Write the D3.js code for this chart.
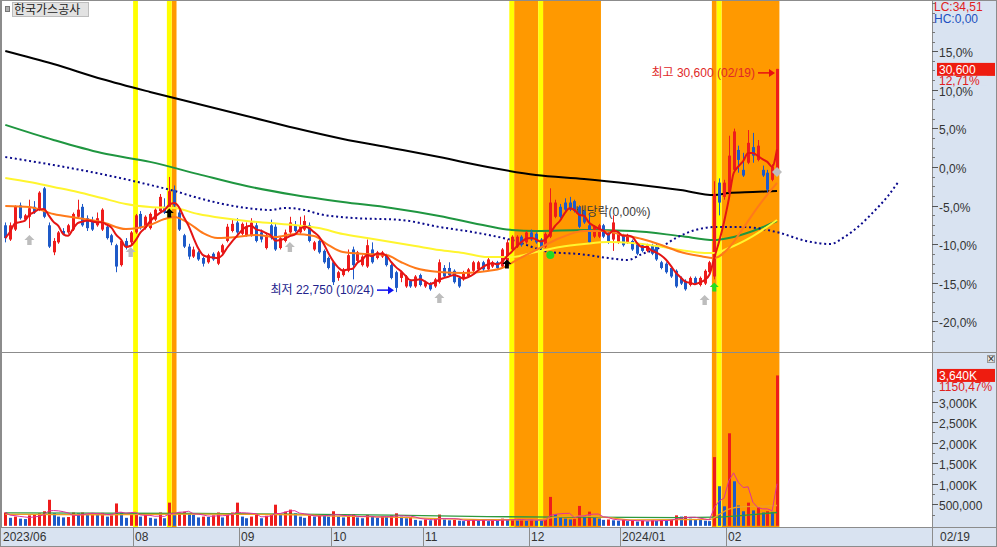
<!DOCTYPE html>
<html lang="ko"><head><meta charset="utf-8">
<script src="https://d3js.org/d3.v7.min.js"></script>
<style>
html,body{margin:0;padding:0;background:#fff;overflow:hidden}
svg{display:block}
text{font-family:"Liberation Sans","Noto Sans CJK KR",sans-serif;font-size:12px}
</style></head><body>
<svg id="chart" width="997" height="547"></svg>
<script>
// ---------------- DATA ----------------
const stockName = "한국가스공사";
const holidays = ["2023-08-15","2023-09-28","2023-09-29","2023-10-02","2023-10-03","2023-10-09","2023-12-25","2023-12-29","2024-01-01","2024-02-09","2024-02-12"];
const open = [25100,24600,24950,25800,25300,25400,25750,25650,26400,25100,
24150,24500,24900,24850,24950,25400,25750,25350,25250,25100,
24950,25050,24750,24400,23700,24550,24500,24850,25500,25000,
25000,25300,25600,25750,25700,26350,25550,24750,24350,24000,
24150,23950,23800,24100,23750,24150,24550,24900,25200,24800,
24750,24750,25100,24850,24300,25100,25050,24300,24550,24850,
25100,24850,24950,25100,24250,24550,24200,23950,23800,23250,
23350,23500,24250,23850,23700,23650,24250,23950,24000,24050,
23700,23450,23250,22950,23150,22950,23350,22950,23050,22950,
23100,23600,23600,23500,23250,23200,23300,23500,23550,23800,
23550,23650,23800,23650,23850,24250,24350,24700,24500,24850,
24800,24600,24350,24700,25400,25750,25900,25900,25950,25750,
25600,25100,24700,24700,25100,24850,24600,24500,24750,24500,
24550,24450,24400,24200,24400,24400,23800,23750,23600,23500,
23250,23150,23000,23250,23000,23050,23450,23300,26600,26100,
26250,27050,27750,27050,27300,27850,27400,27050,26950,26700,
26900];
const high = [25200,25200,25800,25900,25500,26000,25950,26300,26450,25200,
24650,24900,25000,25150,25550,26000,25850,25450,25400,25550,
25700,25150,24800,24450,24600,24650,24900,25500,25600,25450,
25550,25700,26200,26050,26800,26500,25650,24800,24450,24350,
24200,24000,24100,24150,24200,24450,25150,25300,25350,25200,
25200,25350,25200,24950,24800,25300,25150,24700,24950,25400,
25250,25400,25450,25200,24550,24600,24250,24000,23850,23500,
23600,24250,24350,24200,24050,24600,24500,24200,24200,24100,
23750,23500,23500,23350,23200,23350,23400,23150,23100,23250,
23900,23700,23800,23550,23300,23500,23600,23850,23850,23850,
23950,23850,23850,24300,24600,24750,24750,24750,24900,24950,
24850,24650,24850,26400,26000,25850,26050,26100,26000,25800,
25650,25500,25100,25150,25150,24900,25450,24900,24800,24800,
24600,24500,24450,24450,24450,24450,23850,23800,23650,23550,
23300,23200,23300,23300,23300,23550,23850,26650,26750,26700,
28250,28500,27900,27650,28450,28350,28100,27200,27050,27250,
30600];
const low = [24500,24550,24900,25300,25250,25000,25500,25600,25350,24300,
24050,24450,24750,24800,24900,25350,25050,24900,24900,25050,
24900,24600,24400,23450,23650,24250,24400,24800,24950,24950,
24950,25250,25550,25500,25600,25700,24900,24300,23900,23950,
23850,23650,23750,23850,23700,24100,24500,24850,24800,24750,
24700,24700,24500,24500,24250,24600,24200,24250,24500,24800,
24850,24800,24900,24500,24200,24100,23750,23550,23000,23150,
23300,23450,23200,23800,23650,23600,23750,23900,23950,23650,
23200,22750,23100,22900,22900,22900,22950,22900,22800,22900,
23050,23250,23300,23050,22900,23150,23250,23450,23500,23500,
23500,23600,23550,23600,23800,24200,24300,24350,24450,24550,
24450,24250,24300,24650,25350,25350,25600,25600,25550,25000,
25150,24450,24650,24650,24650,24450,24200,24450,24350,24450,
24200,24050,24150,24150,24050,23850,23550,23400,23250,22900,
23000,22800,22950,23000,22950,23000,23400,23200,25450,26000,
26200,26950,26950,26800,27250,27300,27350,26800,26250,26650,
26850];
const close = [24650,25100,25750,25350,25450,25700,25550,26250,25400,24350,
24550,24850,24800,25100,25500,25650,25100,25000,24950,25350,
25650,24650,24500,23650,24550,24350,24850,25450,25000,25400,
25500,25650,26100,25550,26300,25800,24950,24350,24000,24250,
23900,23750,24050,23900,24150,24400,25050,25150,24850,25150,
25050,25200,24550,24600,24750,24650,24250,24650,24850,25200,
24900,25100,25250,24550,24500,24150,23800,23600,23100,23450,
23550,24050,23700,24150,24000,24400,23800,24150,24150,23700,
23250,22900,23450,23300,22950,23300,23000,23100,22850,23200,
23800,23300,23350,23100,22950,23450,23550,23800,23800,23550,
23900,23800,23600,24250,24500,24700,24700,24400,24850,24600,
24500,24300,24800,25900,25900,25400,25650,25650,25600,25050,
25200,24500,25050,25100,24700,24500,25200,24850,24400,24750,
24250,24100,24200,24400,24100,23900,23600,23450,23300,22950,
23050,22850,23250,23050,23250,23500,23800,26200,25900,26600,
27550,28400,27400,26850,28000,27550,27900,26850,26350,27150,
30600];
const volumeK = [300,170,200,150,140,230,240,280,330,610,
280,200,180,190,300,280,300,260,270,240,
290,200,230,520,300,170,260,280,200,240,
170,150,300,160,540,230,300,320,260,240,
180,200,190,230,300,180,250,300,540,200,
160,200,250,160,220,250,490,260,320,370,
280,200,170,230,200,260,240,200,330,200,
180,210,260,180,160,240,190,170,210,190,
230,280,200,160,190,120,100,130,110,140,
250,130,110,120,100,90,110,130,100,120,
90,110,100,150,120,140,110,120,100,130,
110,100,120,680,260,180,150,130,140,460,
200,320,180,150,120,130,110,100,120,90,
110,80,100,85,110,100,120,100,130,230,
200,210,150,130,120,100,90,1650,940,450,
2230,1060,470,330,540,350,420,300,330,316,
3640];

// moving-average lines: [day index, price]
const maBlack = [[0,31230],[10,30770],[20,30245],[30,29790],[40,29365],[50,28945],[60,28520],[70,28135],[80,27820],[90,27500],[100,27150],[110,26870],[120,26730],[130,26550],[140,26340],[147,26165],[150,26235],[155,26270],[160,26305]];
const maGreen = [[0,28630],[10,28100],[20,27640],[30,27330],[40,26900],[50,26480],[60,26165],[70,25920],[80,25710],[90,25430],[100,25075],[105,24935],[110,24900],[120,24935],[130,24900],[140,24720],[147,24580],[150,24650],[155,24900],[160,25250]];
const maYellow = [[0,26763],[5,26622],[10,26447],[15,26271],[20,26060],[25,25849],[30,25743],[35,25708],[40,25497],[45,25356],[50,25251],[55,25180],[60,25110],[65,25005],[70,24794],[75,24653],[80,24512],[85,24372],[90,24231],[95,24126],[100,23985],[105,23985],[110,24160],[115,24336],[120,24442],[125,24512],[130,24477],[135,24372],[140,24231],[145,24126],[147,24126],[150,24301],[155,24723],[160,25286]];
const maOrange = [[0,25778],[5,25743],[10,25497],[15,25356],[20,25216],[25,24969],[30,25110],[33,25321],[35,25391],[38,25180],[41,24829],[44,24653],[48,24688],[52,24758],[56,24688],[60,24794],[64,24723],[67,24407],[70,24160],[75,24090],[79,24055],[82,23809],[85,23598],[90,23457],[95,23422],[100,23492],[103,23598],[106,23879],[110,24231],[115,24653],[120,24899],[124,24899],[128,24758],[132,24618],[136,24407],[140,24160],[144,24020],[147,23950],[150,24300],[153,25000],[156,25740],[160,26590]];
const spanDotted = [[0,27500],[10,27220],[20,26900],[30,26520],[35,26310],[40,26060],[50,25710],[55,25640],[58,25710],[62,25640],[65,25500],[72,25360],[82,25290],[90,25040],[97,24860],[105,24580],[113,24160],[119,24090],[125,23950],[129,23880],[132,24090],[136,24340],[139,24650],[143,24930],[147,25040],[153,25040],[160,24860],[166,24550],[171,24440],[174,24690],[177,25075],[180,25570],[183,26130],[185,26590]];
const volLineGreen = [[0,290],[20,285],[40,275],[60,260],[80,235],[100,200],[120,185],[140,175],[147,185],[155,250],[160,300]];
const volLineOrange = [[0,255],[10,250],[20,245],[30,255],[40,260],[50,255],[60,245],[70,210],[80,185],[90,150],[100,125],[110,120],[115,200],[120,215],[125,175],[130,120],[140,125],[146,130],[148,250],[150,380],[153,440],[156,450],[160,470]];

// signal bands and markers
const yellowDays = [27,34,105,111,148];
const orangeRanges = [[35,35],[106,110],[112,123],[147,147],[149,160]];
const grayArrows = [[5,24580],[26,24160],[59,24340],[90,22540],[145,22470]];
const blackArrows = [[34,25530],[104,23740]];
const greenDots = [[113,24055]];
const greenArrows = [[147,22930]];
const grayDiamonds = [[160,26975]];
const exDivIndex = 126, exDivLabel = "배당락(0,00%)";
const lowIndex = 81, lowLabel = "최저 22,750 (10/24)";
const highIndex = 160, highLabel = "최고 30,600 (02/19)";
const pctTicks = [15,10,5,0,-5,-10,-15,-20];
const volTicks = [500,1000,1500,2000,2500,3000];
const volTickLabels = ["500,000","1,000K","1,500K","2,000K","2,500K","3,000K"];
const monthLabels = {"2023-08":"08","2023-09":"09","2023-10":"10","2023-11":"11","2023-12":"12","2024-01":"2024/01","2024-02":"02"};
const firstLabel = "2023/06", lastDateLabel = "02/19";
const lcText = "LC:34,51", hcText = "HC:0,00";
const lastVolPct = "1150,47%", lastPricePct = "12,71%";

// ---------------- CHART ----------------
const W=997,H=547, PL=2, PR=932, PB=352, VT=353, VB=527;
const svg = d3.select("#chart");
const days=[];
for(let t=Date.UTC(2023,5,23); t<=Date.UTC(2024,1,19); t+=86400000){
  const d=new Date(t), wd=d.getUTCDay(), s=d.toISOString().slice(0,10);
  if(wd!==0 && wd!==6 && !holidays.includes(s)) days.push(s);
}
const n = close.length;
const x = d3.scaleLinear().domain([0, n-1]).range([5.3, 777]);
const basePrice = close[n-2];
const yPct = d3.scaleLinear().domain([-23.96, 21.63]).range([PB, 0]);
const y = v => yPct((v/basePrice-1)*100);
const yV = d3.scaleLinear().domain([0,3000]).range([524.8,401.7]);
const UP="#EE1C1C", DN="#1E5AC8";
const fmtK = v => d3.format(",")(v);

svg.append("rect").attr("width",W).attr("height",H).attr("fill","#fff");
const defs=svg.append("defs");
defs.append("clipPath").attr("id","cAll").append("rect").attr("x",PL).attr("y",0).attr("width",PR-PL).attr("height",VB);
defs.append("clipPath").attr("id","cPrice").append("rect").attr("x",PL).attr("y",0).attr("width",PR-PL).attr("height",PB);
defs.append("clipPath").attr("id","cVol").append("rect").attr("x",PL).attr("y",VT).attr("width",PR-PL).attr("height",VB-VT);

// bands
const gb=svg.append("g").attr("clip-path","url(#cAll)");
orangeRanges.forEach(([a,b])=>gb.append("rect").attr("x",x(a-0.5)).attr("width",x(b+0.5)-x(a-0.5)).attr("y",0).attr("height",VB).attr("fill","#FF9900"));
yellowDays.forEach(a=>gb.append("rect").attr("x",x(a-0.5)).attr("width",x(a+0.5)-x(a-0.5)).attr("y",0).attr("height",VB).attr("fill","#FFFF00"));

const gp=svg.append("g").attr("clip-path","url(#cPrice)");
// ex-dividend note (behind candles)
gp.append("text").attr("x",x(exDivIndex)).attr("y",y(high[exDivIndex])+1).attr("text-anchor","middle").attr("fill","#3a3a3a").attr("font-size","12.5px").text(exDivLabel);

const line = d3.line().x(d=>x(d[0])).y(d=>y(d[1])).curve(d3.curveMonotoneX);
gp.append("path").attr("d",line(maBlack)).attr("fill","none").attr("stroke","#000").attr("stroke-width",2);
gp.append("path").attr("d",line(maGreen)).attr("fill","none").attr("stroke","#1F9640").attr("stroke-width",2);
gp.append("path").attr("d",line(spanDotted)).attr("fill","none").attr("stroke","#0A0A8C").attr("stroke-width",2).attr("stroke-dasharray","2,2.82");

// candles
const cx = i => Math.round(x(i));
const gc=gp.append("g");
d3.range(n).forEach(i=>{
  const col = close[i]>=open[i]?UP:DN;
  gc.append("line").attr("x1",cx(i)+0.5).attr("x2",cx(i)+0.5).attr("y1",y(high[i])).attr("y2",y(low[i])).attr("stroke",col).attr("stroke-width",1);
  const t=Math.min(y(open[i]),y(close[i])), b=Math.max(y(open[i]),y(close[i]));
  gc.append("rect").attr("x",cx(i)-1).attr("width",3).attr("y",t).attr("height",Math.max(1,b-t)).attr("fill",col);
});
gp.append("path").attr("d",line(maYellow)).attr("fill","none").attr("stroke","#FFF52E").attr("stroke-width",2);
gp.append("path").attr("d",line(maOrange)).attr("fill","none").attr("stroke","#FF7A1A").attr("stroke-width",2);
const ma5 = close.map((_,i)=>[i, d3.mean(close.slice(Math.max(0,i-4),i+1))]);
gp.append("path").attr("d",d3.line().x(d=>x(d[0])).y(d=>y(d[1])).curve(d3.curveMonotoneX)(ma5)).attr("fill","none").attr("stroke","#E41414").attr("stroke-width",2);

// markers
function upArrow(px,py,w,h){const hw=w/2,sw=w*0.22;return `M${px},${py-h/2}L${px+hw},${py}L${px+sw},${py}L${px+sw},${py+h/2}L${px-sw},${py+h/2}L${px-sw},${py}L${px-hw},${py}Z`;}
grayArrows.forEach(([i,v])=>gp.append("path").attr("d",upArrow(x(i),y(v),10,10)).attr("fill","#BDBDBD"));
blackArrows.forEach(([i,v])=>gp.append("path").attr("d",upArrow(x(i),y(v),9,9)).attr("fill","#000"));
greenArrows.forEach(([i,v])=>gp.append("path").attr("d",upArrow(x(i),y(v),9,9)).attr("fill","#22DD22"));
greenDots.forEach(([i,v])=>gp.append("circle").attr("cx",x(i)).attr("cy",y(v)).attr("r",4).attr("fill","#22DD22"));
grayDiamonds.forEach(([i,v])=>gp.append("path").attr("d",`M${x(i)},${y(v)-5}L${x(i)+5},${y(v)}L${x(i)},${y(v)+5}L${x(i)-5},${y(v)}Z`).attr("fill","#BDBDBD"));

// annotations
function note(idx, yy, label, tcol, acol){
  const xx=x(idx);
  gp.append("text").attr("x",xx-22).attr("y",yy).attr("dy","0.35em").attr("text-anchor","end").attr("fill",tcol).text(label);
  gp.append("line").attr("x1",xx-19).attr("x2",xx-4).attr("y1",yy).attr("y2",yy).attr("stroke",acol).attr("stroke-width",1.5);
  gp.append("path").attr("d",`M${xx-2},${yy}L${xx-8},${yy-4}L${xx-8},${yy+4}Z`).attr("fill",acol);
}
note(lowIndex, y(low[lowIndex])-2, lowLabel, "#23238C", "#1010F0");
note(highIndex, y(high[highIndex])+4, highLabel, "#E02828", "#E81010");

// volume panel
const gv=svg.append("g").attr("clip-path","url(#cVol)");
volumeK.forEach((v,i)=>{
  const col = (i===0||v>=volumeK[i-1])?UP:DN;
  gv.append("rect").attr("x",cx(i)-1).attr("width",3).attr("y",yV(v)).attr("height",yV(0)-yV(v)+1).attr("fill",col);
});
const vline = d3.line().x(d=>x(d[0])).y(d=>yV(d[1])).curve(d3.curveMonotoneX);
gv.append("path").attr("d",vline(volLineGreen)).attr("fill","none").attr("stroke","#2E9A3E").attr("stroke-width",1.3);
gv.append("path").attr("d",vline(volLineOrange)).attr("fill","none").attr("stroke","#F0A020").attr("stroke-width",1.3);
const vma5 = volumeK.map((_,i)=>[i, d3.mean(volumeK.slice(Math.max(0,i-4),i+1))]);
gv.append("path").attr("d",d3.line().x(d=>x(d[0])).y(d=>yV(d[1]))(vma5)).attr("fill","none").attr("stroke","#E0309A").attr("stroke-width",1);

// right axis panel
const AX="#D9E3F1";
svg.append("rect").attr("x",PR).attr("y",0).attr("width",W-PR).attr("height",VB).attr("fill",AX);
svg.append("rect").attr("x",0).attr("y",VB).attr("width",W).attr("height",H-VB).attr("fill",AX);
svg.append("line").attr("x1",0).attr("x2",W).attr("y1",PB+0.5).attr("y2",PB+0.5).attr("stroke","#8C8C8C");
svg.append("line").attr("x1",0).attr("x2",W).attr("y1",VB+0.5).attr("y2",VB+0.5).attr("stroke","#8C8C8C");
svg.append("line").attr("x1",PR+0.5).attr("x2",PR+0.5).attr("y1",0).attr("y2",H).attr("stroke","#8C8C8C");
svg.append("rect").attr("x",0.5).attr("y",0.5).attr("width",W-1).attr("height",H-1).attr("fill","none").attr("stroke","#8C8C8C");
svg.append("line").attr("x1",1.5).attr("x2",1.5).attr("y1",0).attr("y2",VB).attr("stroke","#8C8C8C");

const ga=svg.append("g");
d3.range(-22.5,21.3,1.25).forEach(p=>{const yy=Math.round(yPct(p))+0.5; ga.append("line").attr("x1",PR).attr("x2",PR+3).attr("y1",yy).attr("y2",yy).attr("stroke","#777");});
const pctFmt = p => (p<0?"-":"")+Math.abs(p).toFixed(1).replace(".",",")+"%";
pctTicks.forEach(p=>{const yy=Math.round(yPct(p))+0.5;
  ga.append("line").attr("x1",PR).attr("x2",PR+6).attr("y1",yy).attr("y2",yy).attr("stroke","#555");
  ga.append("text").attr("x",PR+7).attr("y",yy+1).attr("dy","0.35em").attr("fill","#333").text(pctFmt(p));});
d3.range(250,3400,250).forEach(v=>{const yy=Math.round(yV(v))+0.5; ga.append("line").attr("x1",PR).attr("x2",PR+3).attr("y1",yy).attr("y2",yy).attr("stroke","#777");});
volTicks.forEach((v,k)=>{const yy=Math.round(yV(v))+0.5;
  ga.append("line").attr("x1",PR).attr("x2",PR+6).attr("y1",yy).attr("y2",yy).attr("stroke","#555");
  ga.append("text").attr("x",PR+7).attr("y",yy+1).attr("dy","0.35em").attr("fill","#333").text(volTickLabels[k]);});

// current value boxes (the change text sits on an axis-coloured patch, as in the original)
const lp=close[n-1], yl=y(lp);
ga.append("rect").attr("x",PR+5).attr("y",yl-6).attr("width",58).attr("height",13).attr("fill","#EE1C10");
ga.append("text").attr("x",PR+7).attr("y",yl+0.5).attr("dy","0.35em").attr("fill","#fff").text(fmtK(lp));
ga.append("rect").attr("x",PR+5).attr("y",yl+7).attr("width",50).attr("height",10).attr("fill",AX);
ga.append("text").attr("x",PR+7).attr("y",yl+12).attr("dy","0.35em").attr("fill","#E02020").attr("font-size","11.5px").text(lastPricePct);
const lv=volumeK[n-1], yvl=yV(lv);
ga.append("rect").attr("x",PR+5).attr("y",yvl-6.5).attr("width",58).attr("height",13).attr("fill","#EE1C10");
ga.append("text").attr("x",PR+7).attr("y",yvl).attr("dy","0.35em").attr("fill","#fff").text(fmtK(lv)+"K");
ga.append("text").attr("x",PR+7).attr("y",yvl+11.5).attr("dy","0.35em").attr("fill","#E02020").attr("font-size","11.5px").text(lastVolPct);
ga.append("text").attr("x",PR+2).attr("y",6.5).attr("dy","0.35em").attr("fill","#E02020").attr("font-size","11.5px").text(lcText);
ga.append("text").attr("x",PR+2).attr("y",18.5).attr("dy","0.35em").attr("fill","#2050C0").attr("font-size","11.5px").text(hcText);
// close button of volume pane
ga.append("rect").attr("x",987.5).attr("y",355.5).attr("width",7).attr("height",7).attr("fill","#E4E4E4").attr("stroke","#999");
ga.append("text").attr("x",991).attr("y",359).attr("dy","0.35em").attr("text-anchor","middle").attr("font-size","7px").attr("fill","#333").text("×");

// x axis strip
ga.append("text").attr("x",3).attr("y",537).attr("dy","0.35em").attr("fill","#333").text(firstLabel);
days.forEach((d,i)=>{ if(i===0) return; const m=d.slice(0,7);
  if(m!==days[i-1].slice(0,7) && monthLabels[m]){
    const xx=Math.round(x(i-0.5))+0.5;
    ga.append("line").attr("x1",xx).attr("x2",xx).attr("y1",VB).attr("y2",H).attr("stroke","#8C8C8C");
    ga.append("text").attr("x",xx+1.5).attr("y",537).attr("dy","0.35em").attr("fill","#333").text(monthLabels[m]);
  }});
ga.append("text").attr("x",PR+8).attr("y",537).attr("dy","0.35em").attr("fill","#333").text(lastDateLabel);

// title
ga.append("rect").attr("x",5.5).attr("y",6.5).attr("width",4).attr("height",5).attr("fill","#B0B0B0").attr("stroke","#777");
ga.append("rect").attr("x",12.5).attr("y",2.5).attr("width",76).attr("height",14).attr("fill","#E2E2E2").attr("stroke","#BDBDBD");
ga.append("text").attr("x",14).attr("y",10).attr("dy","0.35em").attr("fill","#222").attr("font-size","12.5px").text(stockName);
</script>
</body></html>
